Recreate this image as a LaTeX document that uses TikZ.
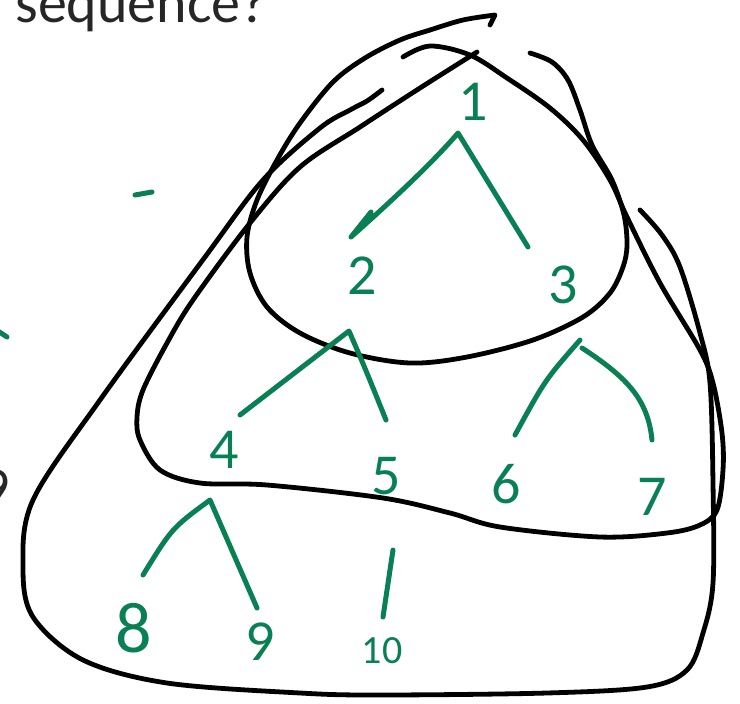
\documentclass[tikz,border=0pt]{standalone}
\usepackage{fontspec}
\setmainfont{Carlito}
\definecolor{treegreen}{RGB}{8,128,84}
\begin{document}
\begin{tikzpicture}[x=0.5pt,y=-0.5pt,line cap=round,line join=round,
  blob/.style={line width=2.4pt},
  branch/.style={treegreen,line width=2.5pt},
  digit/.style={text=treegreen,inner sep=0pt,font=\fontsize{29}{29}\selectfont},
  slidetext/.style={text=black!85,inner sep=0pt,font=\fontsize{29}{29}\selectfont}]
  \clip (0,0) rectangle (740,703);
  % slide text cut by the crop
  \node[slidetext,anchor=base west] (title) at (15,22) {sequence?};
  \node[slidetext,anchor=base east] (cut) at (10,507) {9};
  % outer region
  \draw[blob] plot[smooth,tension=0.55] coordinates {(640,210) (662,235) (680,267) (700,333) (710,383) (713,483) (713,583) (703,633) (687,670) (647,687) (547,693) (380,695) (300,693) (167,683) (83,660) (33,617) (23,567) (33,500) (100,400) (205,257) (263,180) (320,128) (350,110) (367,101) (382,90)};
  % middle region
  \draw[blob] plot[smooth,tension=0.55] coordinates {(403,57) (430,46) (470,55) (507,78) (550,108) (583,140) (610,180) (627,217) (660,283) (700,350) (713,383) (722,433) (723,470) (717,510) (700,525) (667,533) (600,537) (500,527) (450,513) (383,498) (267,485) (200,483) (160,470) (140,440) (137,417) (143,390) (167,343) (193,300) (250,223) (300,167) (360,127) (420,88) (477,52)};
  % inner region
  \draw[blob] plot[smooth,tension=0.55] coordinates {(530,53) (552,62) (568,80) (580,110) (592,145) (612,180) (624,215) (627,245) (623,267) (610,293) (583,317) (533,340) (467,357) (410,363) (350,353) (300,333) (267,307) (250,273) (247,237) (257,200) (277,160) (300,123) (333,82) (365,58) (400,40) (430,30) (463,20) (495,15)} -- (490,25);
  % stray marks
  \draw[branch] (135,195) -- (152,192);
  \draw[branch] (-2,331) -- (7,337);
  % tree
  \node[digit] (n1) at (473,102) {1};
  \node[digit] (n2) at (362,276) {2};
  \node[digit] (n3) at (563,285) {3};
  \node[digit] (n4) at (224,450) {4};
  \node[digit] (n5) at (386,476) {5};
  \node[digit] (n6) at (506,484) {6};
  \node[digit] (n7) at (652,497) {7};
  \node[digit,font=\fontsize{36}{36}\selectfont] (n8) at (134,628) {8};
  \node[digit] (n9) at (260,642) {9};
  \node[digit,font=\fontsize{20}{20}\selectfont] (n10) at (382,651) {10};
  \coordinate (a1) at (458,133);
  \coordinate (e12) at (351,237);
  \coordinate (e12t) at (371,212);
  \coordinate (e13) at (528,247);
  \coordinate (a2) at (349,331);
  \coordinate (e24) at (240,415);
  \coordinate (e25) at (386,420);
  \coordinate (a3) at (580,340);
  \coordinate (e36) at (515,435);
  \coordinate (e37) at (652,440);
  \coordinate (a4) at (210,500);
  \coordinate (e48) at (143,575);
  \coordinate (e49) at (257,608);
  \coordinate (e510a) at (393,550);
  \coordinate (e510b) at (383,617);
  \draw[branch] (e12t) -- (e12) .. controls (395,198) and (435,160) .. (a1) -- (e13);
  \draw[branch] (e24) -- (a2) .. controls (365,368) .. (e25);
  \draw[branch] (e36) .. controls (545,380) .. (a3);
  \draw[branch] (582,348) .. controls (628,378) and (648,400) .. (e37);
  \draw[branch] (e48) .. controls (172,528) .. (a4) -- (e49);
  \draw[branch] (e510a) -- (e510b);
\end{tikzpicture}
\end{document}
